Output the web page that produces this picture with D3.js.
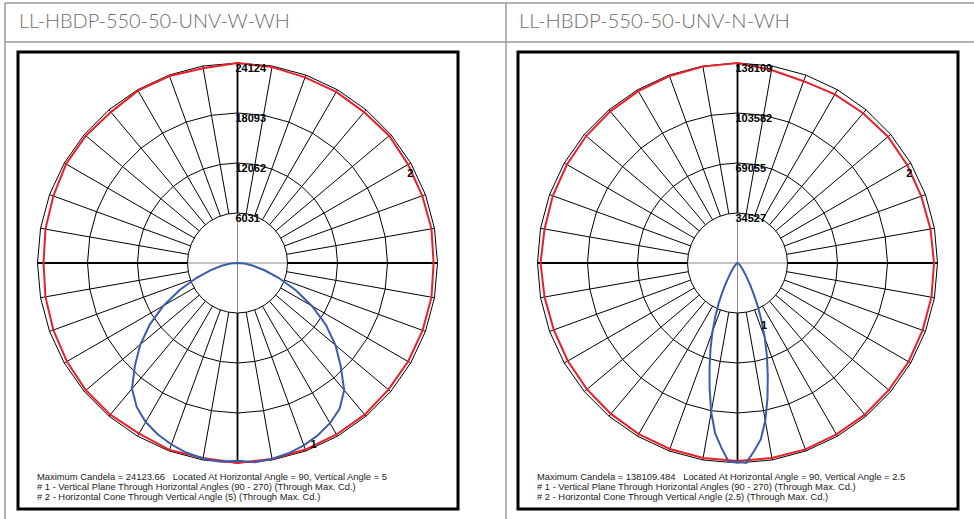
<!DOCTYPE html>
<html lang="en">
<head>
    <meta charset="UTF-8">
    <title>polar candela</title>
    <script src="https://cdn.jsdelivr.net/npm/d3@7"></script>
    <style>
        body { margin: 0; background: #fff; }
        svg { display: block; }
        .note { white-space: pre; }
    </style>
</head>
<body>
    <script>
        var w = 974;
        var h = 519;

        // titles
        var titles = ["LL-HBDP-550-50-UNV-W-WH", "LL-HBDP-550-50-UNV-N-WH"];

        // ring tick labels (cd)
        var ticksW = [6031, 12062, 18093, 24124];
        var ticksN = [34527, 69055, 103582, 138109];

        // #1 vertical plane, vertical angle from nadir
        var vAnglesW = [0, 5, 10, 15, 20, 25, 30, 35, 40, 45, 50, 55, 60, 65, 70, 75, 80, 85, 90];
        var cd90W  = [23850, 24124, 24000, 23760, 23400, 22920, 22310, 21470, 20020, 17610, 15440, 13030, 10370, 7720, 5310, 3380, 1930, 840, 0];
        var cd270W = [23850, 24050, 23950, 23700, 23300, 22800, 22150, 21200, 19800, 17500, 15300, 12900, 10300, 7700, 5300, 3400, 1950, 850, 0];

        var vAnglesN = [0, 2.5, 5, 7.5, 10, 12.5, 15, 17.5, 20, 22.5, 25, 27.5, 30, 35, 40, 45, 50, 60, 70, 80, 90];
        var cd90N  = [137200, 138109, 130500, 122900, 110500, 95700, 80800, 67700, 55200, 43500, 33600, 24200, 17300, 9000, 5000, 3000, 1800, 900, 450, 200, 0];
        var cd270N = [137200, 137500, 128000, 118500, 104500, 89000, 74500, 62000, 50500, 40000, 31000, 22500, 16000, 8500, 4700, 2800, 1700, 850, 420, 180, 0];

        // #2 horizontal cone, plot angle clockwise from top, every 10 deg
        var hAngles = d3.range(0, 360, 10);
        var coneW = [24124, 23990, 23830, 23830, 23760, 23880, 23760, 23720, 23760, 23650,
                     23760, 23760, 23760, 23760, 23880, 23880, 23950, 24000, 24124, 23880,
                     23990, 23760, 23880, 23880, 23760, 23640, 23520, 23400, 23520, 23640,
                     23880, 23880, 23760, 24000, 24000, 23850];
        var coneN = [138109, 135300, 133600, 134500, 135000, 135700, 135300, 135000, 135300, 135700,
                     136000, 136000, 136400, 136400, 136700, 136700, 137000, 136700, 136700, 136700,
                     136700, 136400, 136000, 135700, 135300, 135000, 135300, 136000, 135300, 135700,
                     136000, 136400, 136700, 137000, 137400, 137700];

        var notesW = ["Maximum Candela = 24123.66   Located At Horizontal Angle = 90, Vertical Angle = 5",
                      "# 1 - Vertical Plane Through Horizontal Angles (90 - 270) (Through Max. Cd.)",
                      "# 2 - Horizontal Cone Through Vertical Angle (5) (Through Max. Cd.)"];
        var notesN = ["Maximum Candela = 138109.484   Located At Horizontal Angle = 90, Vertical Angle = 2.5",
                      "# 1 - Vertical Plane Through Horizontal Angles (90 - 270) (Through Max. Cd.)",
                      "# 2 - Horizontal Cone Through Vertical Angle (2.5) (Through Max. Cd.)"];

        var svg = d3.select("body").append("svg")
            .attr("width", w)
            .attr("height", h);

        // table lines
        var grid = svg.append("g").attr("stroke", "#9a9a9a").attr("stroke-width", 1.5);
        grid.append("line").attr("x1", 5).attr("x2", w).attr("y1", 3).attr("y2", 3);
        grid.append("line").attr("x1", 5).attr("x2", w).attr("y1", 42).attr("y2", 42);
        grid.append("line").attr("x1", 5).attr("x2", 5).attr("y1", 3).attr("y2", h);
        grid.append("line").attr("x1", 506).attr("x2", 506).attr("y1", 3).attr("y2", h);

        var rad = Math.PI / 180;

        function lerp(xs, ys, x) {
            for (var i = 0; i < xs.length - 1; i++) {
                if (x >= xs[i] && x <= xs[i + 1]) {
                    var t = (x - xs[i]) / (xs[i + 1] - xs[i]);
                    return ys[i] + t * (ys[i + 1] - ys[i]);
                }
            }
            return ys[ys.length - 1];
        }

        function panel(x0, title, ticks, vAngles, cd90, cd270, cone, notes) {
            var g = svg.append("g");
            var tt = g.append("text")
                .attr("x", x0 + 1).attr("y", 28)
                .attr("font-family", "Lato")
                .attr("font-weight", 300)
                .attr("font-size", "18px")
                .attr("fill", "#6e6e6e")
                .text(title);
            // fit title to ~271px like the original header
            var len = tt.node().getComputedTextLength();
            if (len > 0) tt.attr("font-size", (18 * 271 / len).toFixed(2) + "px");

            g.append("rect")
                .attr("x", x0).attr("y", 52)
                .attr("width", 440).attr("height", 457)
                .attr("fill", "#fff")
                .attr("stroke", "#000")
                .attr("stroke-width", 3);

            var cx = x0 + 219.5, cy = 263;
            var r = d3.scaleLinear().domain([0, ticks[3]]).range([0, 200]);
            var p = g.append("g").attr("transform", "translate(" + cx + "," + cy + ")");

            // rings
            var spokes = d3.range(0, 360, 10);
            var ring = d3.lineRadial().curve(d3.curveLinearClosed);
            p.selectAll(".ring").data(ticks.slice(1)).enter().append("path")
                .attr("d", function(t) {
                    return ring(spokes.map(function(a) { return [a * rad, r(t)]; }));
                })
                .attr("fill", "none").attr("stroke", "#000").attr("stroke-width", 1);
            p.append("circle").attr("r", r(ticks[0]))
                .attr("fill", "none").attr("stroke", "#000").attr("stroke-width", 1);

            // spokes
            p.selectAll(".spoke").data(spokes.filter(function(a) { return a % 90 != 0; })).enter().append("line")
                .attr("x1", function(a) { return r(ticks[0]) * Math.sin(a * rad); })
                .attr("y1", function(a) { return -r(ticks[0]) * Math.cos(a * rad); })
                .attr("x2", function(a) { return r(ticks[3]) * Math.sin(a * rad); })
                .attr("y2", function(a) { return -r(ticks[3]) * Math.cos(a * rad); })
                .attr("stroke", "#000").attr("stroke-width", 1);

            // axes
            var R = r(ticks[3]), r0 = r(ticks[0]);
            p.append("line").attr("x1", 0).attr("x2", 0).attr("y1", -r0).attr("y2", r0).attr("stroke", "#888");
            p.append("line").attr("x1", -r0).attr("x2", r0).attr("y1", 0).attr("y2", 0).attr("stroke", "#888");
            [[0, -R, 0, -r0], [0, r0, 0, R], [-R, 0, -r0, 0], [r0, 0, R, 0]].forEach(function(s) {
                p.append("line").attr("x1", s[0]).attr("y1", s[1]).attr("x2", s[2]).attr("y2", s[3])
                    .attr("stroke", "#000").attr("stroke-width", 1.8);
            });

            // #2 cone (red)
            p.append("path")
                .attr("d", ring(hAngles.map(function(a, i) { return [a * rad, r(cone[i])]; })))
                .attr("fill", "none").attr("stroke", "#e8202a").attr("stroke-width", 2);

            // #1 vertical plane (blue)
            var pts = [];
            for (var i = vAngles.length - 1; i >= 0; i--) pts.push([(180 + vAngles[i]) * rad, r(cd270[i])]);
            for (var j = 1; j < vAngles.length; j++) pts.push([(180 - vAngles[j]) * rad, r(cd90[j])]);
            p.append("path")
                .attr("d", d3.lineRadial()(pts))
                .attr("fill", "none").attr("stroke", "#3d5ba9").attr("stroke-width", 2);

            // tick labels
            p.selectAll(".tick").data(ticks).enter().append("text")
                .attr("x", -2)
                .attr("y", function(t) { return -r(t) + 8.5; })
                .attr("font-family", "Liberation Sans, Arial, sans-serif")
                .attr("font-weight", "bold")
                .attr("font-size", "11px")
                .attr("fill", "#000")
                .text(function(t) { return t; });

            // curve labels
            var a1 = 22.5, r1 = r(lerp(vAngles, cd90, a1)) + 4;
            p.append("text")
                .attr("x", r1 * Math.sin((180 - a1) * rad) + 1)
                .attr("y", -r1 * Math.cos((180 - a1) * rad) + 4)
                .attr("text-anchor", "middle")
                .attr("font-family", "Liberation Sans, Arial, sans-serif")
                .attr("font-weight", "bold").attr("font-size", "11px")
                .text("1");
            var a2 = 62, r2 = r(lerp(hAngles, cone, a2));
            p.append("text")
                .attr("x", r2 * Math.sin(a2 * rad) - 1)
                .attr("y", -r2 * Math.cos(a2 * rad) + 6)
                .attr("text-anchor", "middle")
                .attr("font-family", "Liberation Sans, Arial, sans-serif")
                .attr("font-weight", "bold").attr("font-size", "11px")
                .text("2");

            // notes
            g.selectAll(".note").data(notes).enter().append("text")
                .attr("class", "note")
                .attr("x", x0 + 19)
                .attr("y", function(d, i) { return 479.5 + i * 10; })
                .attr("font-family", "Liberation Sans, Arial, sans-serif")
                .attr("font-size", "9.4px")
                .attr("fill", "#222")
                .text(function(d) { return d; });
        }

        panel(18, titles[0], ticksW, vAnglesW, cd90W, cd270W, coneW, notesW);
        panel(518, titles[1], ticksN, vAnglesN, cd90N, cd270N, coneN, notesN);
    </script>
</body>
</html>
